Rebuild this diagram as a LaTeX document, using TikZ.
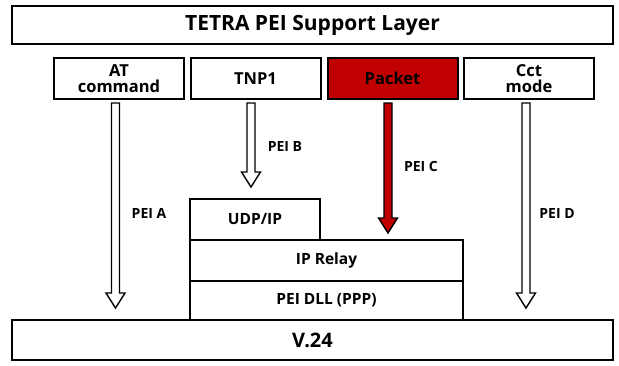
\documentclass[tikz,border=0pt]{standalone}
\usepackage{fontspec}
\setmainfont{Open Sans}
\usetikzlibrary{calc}
\definecolor{pktred}{HTML}{C00000}
\tikzset{
  box/.style={draw=black, line width=2pt, inner sep=0pt, align=center, font=\bfseries\fontsize{16.5}{16}\selectfont},
  stack/.style={box, font=\bfseries\fontsize{15.5}{18}\selectfont},
  hollow/.style={draw=black, line width=1.4pt, fill=white, line join=miter},
  lbl/.style={font=\bfseries\fontsize{14}{16}\selectfont, inner sep=0pt}
}
\newcommand{\hollowarrow}[3]{%
  \draw[hollow, fill=#3] let \p1=(#1), \p2=(#2) in
    ({\x1-4pt},\y1) -- ({\x1+4pt},\y1) -- ({\x1+4pt},{\y2+15pt}) -- ({\x1+9.5pt},{\y2+15pt})
    -- (\x2,\y2) -- ({\x1-9.5pt},{\y2+15pt}) -- ({\x1-4pt},{\y2+15pt}) -- cycle;}
\begin{document}
\begin{tikzpicture}[x=1pt,y=-1pt]
\useasboundingbox (0,0) rectangle (619,365);
\node[box, minimum width=601pt, minimum height=38pt, font=\bfseries\fontsize{21}{22}\selectfont] (top) at (312.5,25) {TETRA PEI Support Layer};
\node[box, minimum width=130pt, minimum height=41pt] (at) at (119,78.5) {AT\\command};
\node[box, minimum width=130pt, minimum height=41pt] (tnp) at (255.5,78.5) {TNP1};
\node[box, minimum width=130pt, minimum height=41pt, fill=pktred] (pkt) at (392.5,78.5) {Packet};
\node[box, minimum width=130pt, minimum height=41pt] (cct) at (529,78.5) {Cct\\mode};
\node[stack, minimum width=130pt, minimum height=41pt] (udp) at (255,219.5) {UDP/IP};
\node[stack, minimum width=273pt, minimum height=41pt] (relay) at (326.5,260.5) {IP Relay};
\node[stack, minimum width=273pt, minimum height=39pt] (dll) at (326.5,300.5) {PEI DLL (PPP)};
\node[box, minimum width=601pt, minimum height=40pt, font=\bfseries\fontsize{20}{22}\selectfont] (v24) at (312.5,340) {V.24};
\coordinate (sa) at (115.5,103); \coordinate (ea) at (115.5,308);
\coordinate (sb) at (251,103);   \coordinate (eb) at (251,187);
\coordinate (sc) at (388,103);   \coordinate (ec) at (388,233);
\coordinate (sd) at (526,103);   \coordinate (ed) at (526,308);
\hollowarrow{sa}{ea}{white}
\hollowarrow{sb}{eb}{white}
\hollowarrow{sc}{ec}{pktred}
\hollowarrow{sd}{ed}{white}
\node[lbl] (la) at (149,213) {PEI A};
\node[lbl] (lb) at (285,146) {PEI B};
\node[lbl] (lc) at (421,166) {PEI C};
\node[lbl] (ld) at (557,213) {PEI D};
\end{tikzpicture}
\end{document}
